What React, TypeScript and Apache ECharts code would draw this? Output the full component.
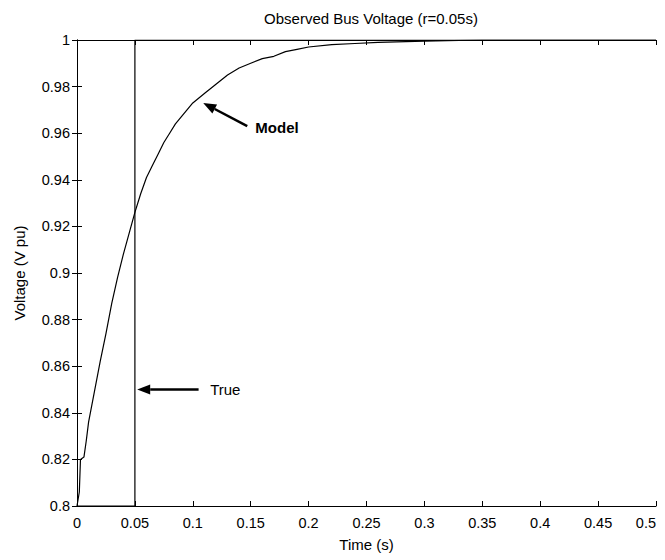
import React, { useEffect, useRef } from "react";
import * as echarts from "echarts";

// Time samples (s) and model voltage (pu)
const modelTime = [
  0, 0.002, 0.003, 0.006, 0.008, 0.01, 0.015, 0.02, 0.025, 0.03, 0.035, 0.04, 0.045,
  0.05, 0.055, 0.06, 0.065, 0.07, 0.075, 0.08, 0.085, 0.09, 0.095, 0.1, 0.11, 0.12,
  0.13, 0.14, 0.15, 0.16, 0.17, 0.18, 0.19, 0.2, 0.22, 0.24, 0.26, 0.3, 0.35, 0.4, 0.45, 0.5,
];
const modelVoltage = [
  0.8, 0.806, 0.82, 0.821, 0.828, 0.836, 0.849, 0.862, 0.874, 0.887, 0.898, 0.908, 0.917,
  0.926, 0.934, 0.941, 0.946, 0.951, 0.956, 0.96, 0.964, 0.967, 0.97, 0.973, 0.977, 0.981,
  0.985, 0.988, 0.99, 0.992, 0.993, 0.995, 0.996, 0.997, 0.998, 0.9985, 0.999, 0.9995, 1, 1, 1, 1,
];
// True voltage: step at r = 0.05 s
const trueTime = [0, 0.05, 0.05, 0.5];
const trueVoltage = [0.8, 0.8, 1, 1];

const titleText = "Observed Bus Voltage (r=0.05s)";
const xAxisName = "Time (s)";
const yAxisName = "Voltage (V pu)";

// Annotation anchors in data coordinates
const modelArrow = { tail: [0.147, 0.963], tip: [0.109, 0.973], label: [0.154, 0.9625], text: "Model" };
const trueArrow = { tail: [0.105, 0.85], tip: [0.052, 0.85], label: [0.115, 0.85], text: "True" };

const FONT = "'Liberation Sans', Arial, Helvetica, sans-serif";

export default function App() {
  const ref = useRef<HTMLDivElement>(null);

  useEffect(() => {
    if (!ref.current) return;
    const chart = echarts.init(ref.current, null, { renderer: "svg" });

    const axisCommon = {
      type: "value" as const,
      axisLine: { show: true, lineStyle: { color: "#000", width: 1 } },
      axisTick: { show: true, inside: true, length: 5, lineStyle: { color: "#000" } },
      splitLine: { show: false },
    };

    chart.setOption({
      animation: false,
      backgroundColor: "#fff",
      textStyle: { fontFamily: FONT },
      title: {
        text: titleText,
        left: 366,
        textAlign: "center",
        top: 6,
        textStyle: { fontFamily: FONT, fontSize: 15, fontWeight: "normal", color: "#000" },
      },
      grid: { left: 77, right: 9, top: 40, bottom: 54 },
      xAxis: [
        {
          ...axisCommon,
          position: "bottom",
          min: 0,
          max: 0.5,
          interval: 0.05,
          name: xAxisName,
          nameLocation: "middle",
          nameGap: 31,
          nameTextStyle: { fontFamily: FONT, fontSize: 15, color: "#000" },
          axisLabel: { margin: 9, fontFamily: FONT, fontSize: 14.5, color: "#000", alignMaxLabel: "right" },
        },
        {
          ...axisCommon,
          position: "top",
          min: 0,
          max: 0.5,
          interval: 0.05,
          axisLabel: { show: false },
        },
      ],
      yAxis: [
        {
          ...axisCommon,
          position: "left",
          min: 0.8,
          max: 1,
          interval: 0.02,
          name: yAxisName,
          nameLocation: "middle",
          nameGap: 50,
          nameTextStyle: { fontFamily: FONT, fontSize: 15, color: "#000" },
          axisLabel: { margin: 7, fontFamily: FONT, fontSize: 14.5, color: "#000" },
        },
        {
          ...axisCommon,
          position: "right",
          min: 0.8,
          max: 1,
          interval: 0.02,
          axisLabel: { show: false },
        },
      ],
      series: [
        {
          name: "True",
          type: "line",
          data: trueTime.map((t, i) => [t, trueVoltage[i]]),
          showSymbol: false,
          lineStyle: { color: "#000", width: 1.2 },
          z: 3,
        },
        {
          name: "Model",
          type: "line",
          data: modelTime.map((t, i) => [t, modelVoltage[i]]),
          showSymbol: false,
          lineStyle: { color: "#000", width: 1.2 },
          z: 4,
        },
      ],
    });

    const px = (p: number[]) => chart.convertToPixel({ gridIndex: 0 }, p) as number[];

    const arrow = (a: { tail: number[]; tip: number[]; label: number[]; text: string }, bold: boolean) => {
      const tail = px(a.tail);
      const tip = px(a.tip);
      const lab = px(a.label);
      const dx = tip[0] - tail[0];
      const dy = tip[1] - tail[1];
      const len = Math.sqrt(dx * dx + dy * dy);
      const ux = dx / len;
      const uy = dy / len;
      const headLen = 13;
      const headW = 5;
      const bx = tip[0] - ux * headLen;
      const by = tip[1] - uy * headLen;
      return [
        {
          type: "line",
          shape: { x1: tail[0], y1: tail[1], x2: bx, y2: by },
          style: { stroke: "#000", lineWidth: 2.5 },
        },
        {
          type: "polygon",
          shape: {
            points: [
              [tip[0], tip[1]],
              [bx - uy * headW, by + ux * headW],
              [bx + uy * headW, by - ux * headW],
            ],
          },
          style: { fill: "#000" },
        },
        {
          type: "text",
          x: lab[0],
          y: lab[1],
          style: {
            text: a.text,
            fontFamily: FONT,
            fontSize: 15,
            fontWeight: bold ? "bold" : "normal",
            fill: "#000",
            verticalAlign: "middle",
            align: "left",
          },
        },
      ];
    };

    chart.setOption({
      graphic: [...arrow(modelArrow, true), ...arrow(trueArrow, false)],
    });

    return () => chart.dispose();
  }, []);

  return <div ref={ref} style={{ position: "fixed", left: 0, top: 0, width: 665, height: 560 }} />;
}
